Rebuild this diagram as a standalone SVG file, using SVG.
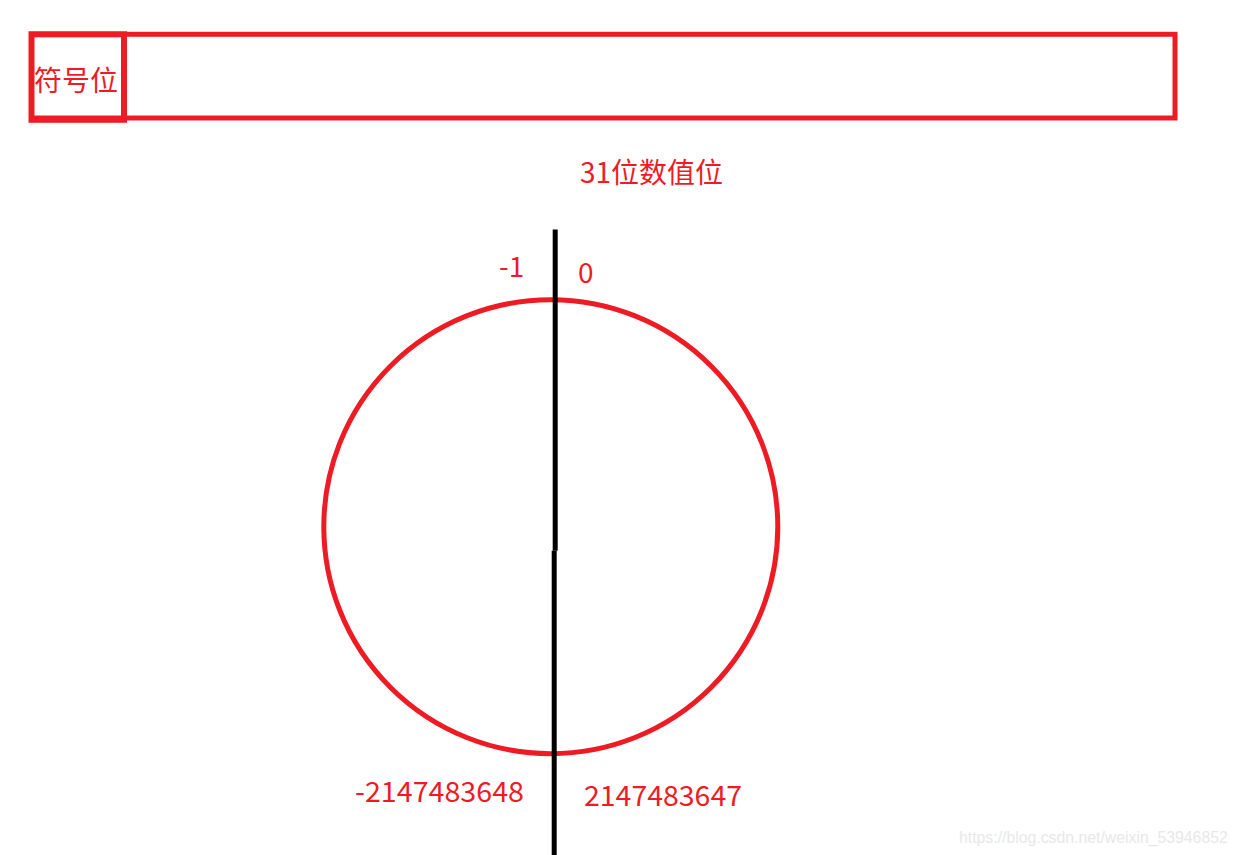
<svg xmlns="http://www.w3.org/2000/svg" width="1240" height="855" viewBox="0 0 1240 855">
<style>
.r{fill:none;stroke:#ED1C24;stroke-width:5}
.t{fill:#ED1C24;font-family:"Noto Sans CJK SC","Noto Sans",sans-serif;font-size:28px}
.k{stroke:#000;stroke-width:5}
</style>
<rect width="1240" height="855" fill="#fff"/>
<g id="register">
<rect class="r" x="31.5" y="34.3" width="1143.5" height="83.7"/>
</g>
<g id="sign-bit">
<rect class="r" x="31.5" y="34.3" width="92.5" height="85.5" style="stroke-width:6"/>
<text class="t" x="34" y="91">符号位</text>
</g>
<g id="value-label">
<text class="t" x="580" y="183">31位数值位</text>
</g>
<g id="ring">
<circle class="r" cx="550.8" cy="526.7" r="227"/>
</g>
<g id="connectors">
<line class="k" x1="555.2" y1="229.5" x2="555.2" y2="550.7"/>
<line class="k" x1="554.2" y1="550.7" x2="554.2" y2="855"/>
</g>
<g id="labels">
<text class="t" x="499" y="277">-1</text>
<text class="t" x="578" y="283">0</text>
<text class="t" x="355" y="802" textLength="169" lengthAdjust="spacingAndGlyphs">-2147483648</text>
<text class="t" x="584" y="806" textLength="158" lengthAdjust="spacingAndGlyphs">2147483647</text>
</g>
<text x="959" y="843" font-family="Liberation Sans, Arial, sans-serif" font-size="15.8" fill="#e8e8e8">https://blog.csdn.net/weixin_53946852</text>
</svg>
